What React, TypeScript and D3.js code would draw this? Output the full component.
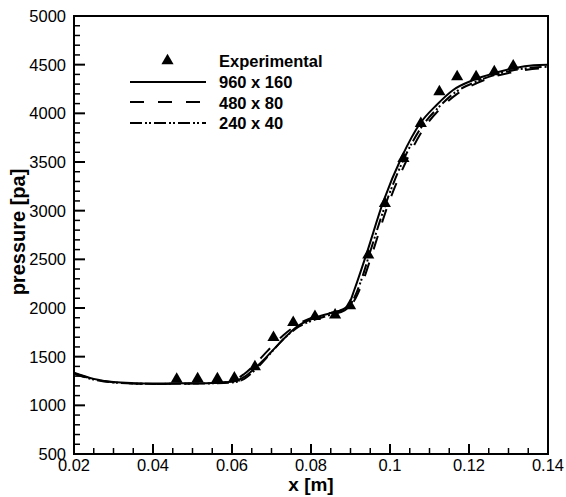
import * as d3 from 'd3';

// chart size and plot frame
const W = 566;
const H = 497;
const M = { left: 74, right: 548, top: 16, bottom: 454 };

// experimental points (x [m], pressure [pa])
const expX = [0.046, 0.0513, 0.0563, 0.0606, 0.0658, 0.0705, 0.0755, 0.081, 0.0861, 0.0899,
  0.0945, 0.0987, 0.1034, 0.1078, 0.1125, 0.117, 0.1218, 0.1264, 0.1312];
const expY = [1285, 1292, 1292, 1298, 1414, 1715, 1869, 1931, 1945, 2041,
  2562, 3092, 3554, 3914, 4240, 4394, 4394, 4445, 4505];

// 960 x 160
const fineX = [0.02, 0.025, 0.03, 0.035, 0.04, 0.045, 0.05, 0.055, 0.06, 0.063, 0.0655, 0.068, 0.072,
  0.0764, 0.0806, 0.0848, 0.088, 0.0895, 0.091, 0.0941, 0.0983, 0.103, 0.1076, 0.1118, 0.116,
  0.1211, 0.1262, 0.1312, 0.1363, 0.14];
const fineY = [1335, 1272, 1240, 1228, 1224, 1225, 1227, 1230, 1242, 1290, 1370, 1466, 1637,
  1808, 1894, 1946, 1985, 2030, 2190, 2562, 3092, 3554, 3895, 4086, 4240,
  4342, 4411, 4463, 4495, 4500];

// 480 x 80
const medX = [0.02, 0.025, 0.03, 0.035, 0.04, 0.045, 0.05, 0.055, 0.06, 0.063, 0.066, 0.069, 0.073,
  0.077, 0.081, 0.085, 0.0885, 0.091, 0.093, 0.0955, 0.0995, 0.104, 0.1085, 0.113, 0.117,
  0.122, 0.127, 0.132, 0.136, 0.14];
const medY = [1330, 1268, 1236, 1224, 1220, 1221, 1224, 1228, 1250, 1320, 1430, 1560, 1720,
  1840, 1910, 1950, 1990, 2080, 2260, 2560, 3060, 3500, 3840, 4060, 4200,
  4310, 4385, 4430, 4455, 4465];

// 240 x 40
const coarseX = [0.02, 0.025, 0.03, 0.035, 0.04, 0.045, 0.05, 0.055, 0.06, 0.063, 0.066, 0.069, 0.073,
  0.077, 0.081, 0.085, 0.0885, 0.0905, 0.0925, 0.095, 0.099, 0.1035, 0.108, 0.1125, 0.1165,
  0.1215, 0.1265, 0.1315, 0.136, 0.14];
const coarseY = [1325, 1265, 1235, 1223, 1220, 1221, 1223, 1226, 1235, 1270, 1370, 1500, 1680,
  1810, 1880, 1930, 1975, 2070, 2260, 2580, 3080, 3530, 3860, 4070, 4215,
  4320, 4395, 4445, 4470, 4478];

const xTicks = [0.02, 0.04, 0.06, 0.08, 0.1, 0.12, 0.14];
const xTickLabels = ['0.02', '0.04', '0.06', '0.08', '0.1', '0.12', '0.14'];
const yTicks = [500, 1000, 1500, 2000, 2500, 3000, 3500, 4000, 4500, 5000];

const seriesNames = ['Experimental', '960 x 160', '480 x 80', '240 x 40'];
const dashes = ['none', '14,14', '12,3,2,2,2,3'];

const FONT = '"Liberation Sans", Arial, Helvetica, sans-serif';

export default function App() {
  const x = d3.scaleLinear().domain([0.02, 0.14]).range([M.left, M.right]);
  const y = d3.scaleLinear().domain([500, 5000]).range([M.bottom, M.top]);

  const line = d3.line<[number, number]>()
    .x(d => x(d[0]))
    .y(d => y(d[1]))
    .curve(d3.curveMonotoneX);

  const lines = [
    fineX.map((v, i) => [v, fineY[i]] as [number, number]),
    medX.map((v, i) => [v, medY[i]] as [number, number]),
    coarseX.map((v, i) => [v, coarseY[i]] as [number, number]),
  ];

  const triSize = 64;
  const tri = d3.symbol(d3.symbolTriangle, triSize)()!;
  const triShift = Math.sqrt(triSize / (3 * Math.sqrt(3))) / 2;

  const xMinor = d3.range(0.025, 0.14, 0.005).filter(v => Math.abs(v / 0.02 - Math.round(v / 0.02)) > 1e-6);
  const yMinor = d3.range(600, 5000, 100).filter(v => v % 500 !== 0);

  // legend placement
  const legX0 = 130, legX1 = 206, legTextX = 219;
  const legRows = [59, 82, 102, 123];
  const legBase = [67, 87.5, 108.5, 128.5];

  return (
    <svg width={W} height={H} style={{ position: 'absolute', left: 0, top: 0, background: '#fff' }}
      fontFamily={FONT}>
      <rect x={0} y={0} width={W} height={H} fill="#fff" />

      {/* minor / major ticks */}
      <g stroke="#000" strokeWidth={1.5}>
        {xMinor.map(v => <line key={'xm' + v} x1={x(v)} x2={x(v)} y1={M.bottom} y2={M.bottom - 6} />)}
        {xTicks.map(v => <line key={'xt' + v} x1={x(v)} x2={x(v)} y1={M.bottom} y2={M.bottom - 10} strokeWidth={2} />)}
        {yMinor.map(v => <line key={'ym' + v} x1={M.left} x2={M.left + 6} y1={y(v)} y2={y(v)} />)}
        {yTicks.map(v => <line key={'yt' + v} x1={M.left} x2={M.left + 11} y1={y(v)} y2={y(v)} strokeWidth={2} />)}
      </g>

      {/* data lines */}
      {lines.map((d, i) => (
        <path key={i} d={line(d) ?? ''} fill="none" stroke="#000" strokeWidth={2}
          strokeDasharray={dashes[i]} />
      ))}

      {/* experimental */}
      {expX.map((v, i) => (
        <path key={'e' + i} d={tri} fill="#000"
          transform={`translate(${x(v)},${y(expY[i]) + triShift})`} />
      ))}

      {/* frame */}
      <rect x={M.left} y={M.top} width={M.right - M.left} height={M.bottom - M.top}
        fill="none" stroke="#000" strokeWidth={2} />

      {/* tick labels */}
      <g fontSize={16.5} fill="#000">
        {yTicks.map(v => (
          <text key={'yl' + v} x={66} y={y(v)} dy="0.36em" textAnchor="end">{v}</text>
        ))}
        {xTicks.map((v, i) => (
          <text key={'xl' + v} x={x(v)} y={470.5} textAnchor="middle">{xTickLabels[i]}</text>
        ))}
      </g>

      {/* axis titles */}
      <text x={(M.left + M.right) / 2} y={490.5} textAnchor="middle" fontSize={19} fontWeight="bold">x [m]</text>
      <text transform={`translate(25,232) rotate(-90)`} textAnchor="middle" fontSize={20} fontWeight="bold">pressure [pa]</text>

      {/* legend */}
      <path d={tri} fill="#000" transform={`translate(${(legX0 + legX1) / 2 - 0.5},${legRows[0] + triShift})`} />
      {dashes.map((da, i) => (
        <line key={'lg' + i} x1={legX0} x2={legX1} y1={legRows[i + 1]} y2={legRows[i + 1]}
          stroke="#000" strokeWidth={2} strokeDasharray={da} />
      ))}
      {seriesNames.map((s, i) => (
        <text key={s} x={legTextX} y={legBase[i]} fontSize={16.5} fontWeight="bold">{s}</text>
      ))}
    </svg>
  );
}
